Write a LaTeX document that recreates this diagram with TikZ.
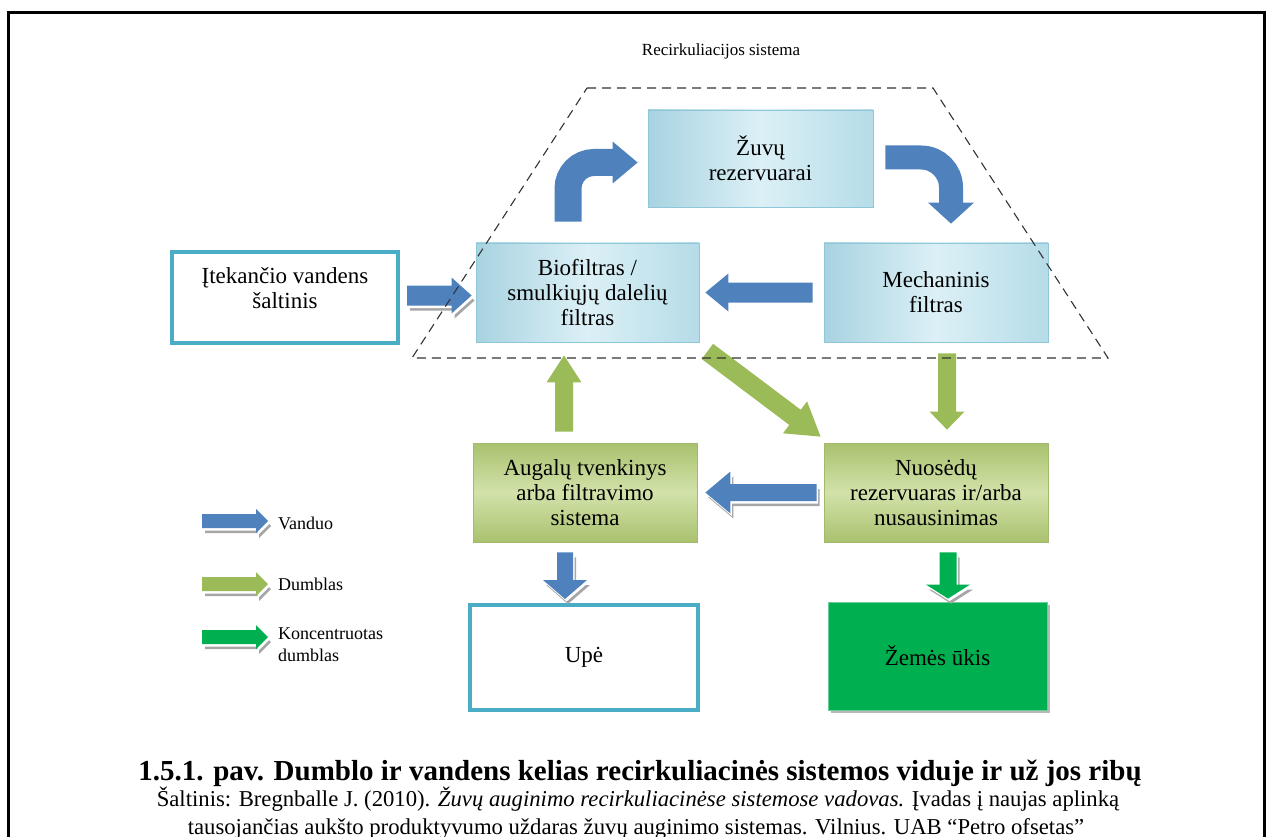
\documentclass[tikz,border=0pt]{standalone}
\usepackage{fontspec}
\setmainfont{Liberation Serif}
\usetikzlibrary{arrows.meta,calc,shadows}

\definecolor{flowblue}{HTML}{4F81BD}
\definecolor{sludge}{HTML}{9BBB59}
\definecolor{concsludge}{HTML}{00B050}
\definecolor{rimteal}{HTML}{4BACC6}
\definecolor{shadowgray}{HTML}{A6A6A6}
\definecolor{tankblueA}{HTML}{A8D3E1}
\definecolor{tankblueB}{HTML}{DCF0F6}
\definecolor{tankblueC}{HTML}{B5DCE8}
\definecolor{tankline}{HTML}{8FC6D8}
\definecolor{pondA}{HTML}{A9C16E}
\definecolor{pondB}{HTML}{D2E2AA}
\definecolor{pondline}{HTML}{A3B96B}

\newcommand\boxfont{\fontsize{23}{25}\selectfont}
\newcommand\legfont{\fontsize{18}{22}\selectfont}

% block arrow: style, tail, tip, shaft half-width, head half-width, head length
\newcommand\blockarrow[6]{%
  \coordinate (bahead) at ($#3!#6!#2$);
  \fill[#1] ($#2!#4!90:#3$) -- ($(bahead)!#4!90:#3$) -- ($(bahead)!#5!90:#3$)
    -- #3 -- ($(bahead)!#5!-90:#3$) -- ($(bahead)!#4!-90:#3$)
    -- ($#2!#4!-90:#3$) -- cycle;}
% block arrow with an offset grey outline underneath
\newcommand\shadowarrow[6]{%
  \blockarrow{shadowgray, transform canvas={shift={(3,5)}}}{#2}{#3}{#4}{#5}{#6}
  \blockarrow{white, transform canvas={shift={(1.5,2.5)}}}{#2}{#3}{#4}{#5}{#6}
  \blockarrow{#1}{#2}{#3}{#4}{#5}{#6}}

\begin{document}
\begin{tikzpicture}[x=1pt,y=-1pt,
  boxbase/.style={minimum width=224pt, minimum height=99pt, align=center,
    font=\boxfont, inner sep=0pt},
  tankbox/.style={boxbase, draw=tankline, line width=0.8pt,
    left color=tankblueA, right color=tankblueC, middle color=tankblueB},
  pondbox/.style={boxbase, draw=pondline, line width=0.8pt,
    top color=pondA, bottom color=pondA, middle color=pondB},
  rimbox/.style={boxbase, draw=rimteal, line width=4pt, fill=white},
  legtext/.style={anchor=west, inner sep=0pt, font=\legfont, align=left},
  capfont/.style={anchor=base, inner sep=0pt}
]
\useasboundingbox (0,0) rectangle (1272,837);

% page frame
\draw[line width=3pt] (8,837) -- (8,13) -- (1264,13) -- (1264,837);

% boxes
\node[tankbox, minimum width=225pt, minimum height=97pt] (zuv) at (760.5,158.5) {Žuvų\\rezervuarai};
\node[tankbox, minimum width=223pt] (bio) at (587.5,292.5) {Biofiltras /\\smulkiųjų dalelių\\filtras};
\node[tankbox] (mech) at (936,292.5) {Mechaninis\\filtras};
\node[rimbox, minimum width=226pt, minimum height=91pt] (src) at (285,297.5) {};
\node[font=\boxfont, align=center, inner sep=0pt] (srctext) at (285,288) {Įtekančio vandens\\šaltinis};
\node[pondbox] (aug) at (585,492.5) {Augalų tvenkinys\\arba filtravimo\\sistema};
\node[pondbox] (nuo) at (936,492.5) {Nuosėdų\\rezervuaras ir/arba\\nusausinimas};
\node[rimbox, minimum width=228pt, minimum height=105pt] (upe) at (584,657.5) {Upė};
\node[boxbase, minimum width=219pt, minimum height=108pt, fill=concsludge,
  draw=concsludge!60!white, line width=0.8pt,
  drop shadow={shadow xshift=3pt, shadow yshift=-3pt, fill=shadowgray, opacity=0.8}]
  (zem) at (937.5,656) {Žemės ūkis};

% curved water arrow: biofilter -> fish tanks
\coordinate (a0) at ($(bio.north)+(-19.5,-21)$);
\coordinate (a1) at ($(zuv.west)+(-35,4)$);
\coordinate (a2) at ($(zuv.west)+(-10,4)$);
\draw[flowblue, line width=27pt, rounded corners=26pt] (a0) |- ($(a1)+(1,0)$);
\fill[flowblue] ($(a1)+(0,-21)$) -- (a2) -- ($(a1)+(0,21)$) -- cycle;

% curved water arrow: fish tanks -> mechanical filter
\coordinate (b0) at ($(zuv.east)+(12,-1)$);
\coordinate (b1) at ($(mech.north)+(15,-40)$);
\coordinate (b2) at ($(mech.north)+(15,-19)$);
\draw[flowblue, line width=24pt, rounded corners=30pt] (b0) -| ($(b1)+(0,1)$);
\fill[flowblue] ($(b1)+(-23,0)$) -- (b2) -- ($(b1)+(23,0)$) -- cycle;

% mechanical filter -> biofilter
\coordinate (c0) at ($(mech.west)+(-11,0)$);
\coordinate (c1) at ($(bio.east)+(6,0)$);
\blockarrow{flowblue}{(c0)}{(c1)}{10pt}{19pt}{23pt}

% inflow -> biofilter
\coordinate (d0) at ($(src.east)+(7,-2)$);
\coordinate (d1) at ($(bio.west)+(-4,3)$);
\shadowarrow{flowblue}{(d0)}{(d1)}{10pt}{18pt}{20pt}

% plant pond -> biofilter (sludge)
\coordinate (e0) at ($(aug.north)+(-21,-11)$);
\coordinate (e1) at ($(bio.south)+(-23.5,13)$);
\blockarrow{sludge}{(e0)}{(e1)}{9pt}{17.5pt}{27pt}

% biofilter -> sediment tank (sludge)
\coordinate (f0) at ($(bio.south east)+(8,9)$);
\coordinate (f1) at ($(nuo.north west)+(-3,-6)$);
\blockarrow{sludge}{(f0)}{(f1)}{9.5pt}{20pt}{32pt}

% mechanical filter -> sediment tank (sludge)
\coordinate (g0) at ($(mech.south)+(11,11)$);
\coordinate (g1) at ($(nuo.north)+(11,-13)$);
\blockarrow{sludge}{(g0)}{(g1)}{9pt}{17.5pt}{18pt}

% sediment tank -> plant pond (water)
\coordinate (h0) at ($(nuo.west)+(-7,0)$);
\coordinate (h1) at ($(aug.east)+(8,0)$);
\shadowarrow{flowblue}{(h0)}{(h1)}{8.5pt}{21pt}{25pt}

% plant pond -> river (water)
\coordinate (i0) at ($(aug.south)+(-20,10)$);
\coordinate (i1) at ($(upe.north)+(-19,-4)$);
\shadowarrow{flowblue}{(i0)}{(i1)}{8pt}{22pt}{19pt}

% sediment tank -> agriculture (concentrated sludge)
\coordinate (j0) at ($(nuo.south)+(12,10)$);
\coordinate (j1) at ($(zem.north)+(10.5,-3)$);
\shadowarrow{concsludge}{(j0)}{(j1)}{8.5pt}{22pt}{14pt}

% recirculation boundary
\node[font=\fontsize{17}{20}\selectfont, inner sep=0pt] (title) at (721,51) {Recirkuliacijos sistema};
\draw[line width=1.1pt, dash pattern=on 9pt off 6pt, black!80]
  (587,88) -- (933,88) -- (1108,358) -- (412,358) -- cycle;

% legend
\node[legtext] (lv) at (278,523) {Vanduo};
\node[legtext] (ld) at (278,584) {Dumblas};
\node[legtext] (lk) at (278,645) {Koncentruotas\\dumblas};
\coordinate (lv0) at ($(lv.west)+(-76,-2)$);
\coordinate (lv1) at ($(lv.west)+(-10,-2)$);
\coordinate (ld0) at ($(ld.west)+(-76,0)$);
\coordinate (ld1) at ($(ld.west)+(-10,0)$);
\coordinate (lk0) at ($(lk.west)+(-76,-8)$);
\coordinate (lk1) at ($(lk.west)+(-10,-8)$);
\shadowarrow{flowblue}{(lv0)}{(lv1)}{7pt}{12pt}{12pt}
\shadowarrow{sludge}{(ld0)}{(ld1)}{7pt}{12pt}{12pt}
\shadowarrow{concsludge}{(lk0)}{(lk1)}{7pt}{12pt}{12pt}

% caption
\node[capfont, font=\fontsize{29}{32}\selectfont\bfseries] (cap) at (640,780)
  {1.5.1. pav. Dumblo ir vandens kelias recirkuliacinės sistemos viduje ir už jos ribų};
\node[capfont, font=\fontsize{22.7}{26}\selectfont] (ref1) at (638,806)
  {Šaltinis: Bregnballe J. (2010). \textit{Žuvų auginimo recirkuliacinėse sistemose vadovas.} Įvadas į naujas aplinką};
\node[capfont, font=\fontsize{22.7}{26}\selectfont] (ref2) at (636,834)
  {tausojančias aukšto produktyvumo uždaras žuvų auginimo sistemas. Vilnius. UAB “Petro ofsetas”};
\end{tikzpicture}
\end{document}
